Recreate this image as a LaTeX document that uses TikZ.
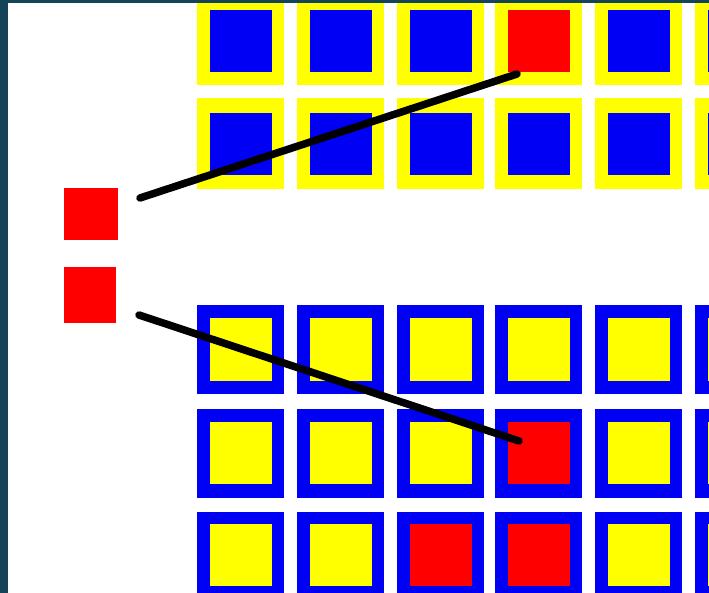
\documentclass[tikz,border=0pt]{standalone}
\definecolor{edgeteal}{RGB}{20,68,88}
\definecolor{cblue}{RGB}{0,0,245}
\definecolor{cred}{RGB}{255,0,0}
\definecolor{cyellow}{RGB}{255,255,0}
\begin{document}
\begin{tikzpicture}[x=1pt,y=-1pt,
  cell/.style={rectangle,draw=none,inner sep=0pt,outer sep=0pt,anchor=north west},
  outertop/.style={cell,fill=cyellow,minimum width=87pt},
  outerbot/.style={cell,fill=cblue,minimum width=87pt,minimum height=89pt},
  innercell/.style={cell,minimum width=62pt,minimum height=62pt},
  link/.style={draw=black,line width=7.5pt,line cap=round}]
\useasboundingbox (0,0) rectangle (709,593);
\clip (0,0) rectangle (709,593);
\fill[white] (0,0) rectangle (709,593);
% grid cells
\foreach \x/\i/\ta/\tb/\ba/\bb/\bc in {
  197/1/cblue/cblue/cyellow/cyellow/cyellow,
  297/2/cblue/cblue/cyellow/cyellow/cyellow,
  397/3/cblue/cblue/cyellow/cyellow/cred,
  495/4/cred/cblue/cyellow/cred/cred,
  595/5/cblue/cblue/cyellow/cyellow/cyellow,
  695/6/cblue/cblue/cyellow/cyellow/cyellow}{
  % top grid
  \node[outertop,minimum height=88pt] (toa\i) at (\x,-3) {};
  \node[innercell,fill=\ta] (tia\i) at (\x+13,10) {};
  \node[outertop,minimum height=91pt] (tob\i) at (\x,98.5) {};
  \node[innercell,fill=\tb] (tib\i) at (\x+13,113) {};
  % bottom grid
  \node[outerbot] (boa\i) at (\x,305) {};
  \node[innercell,fill=\ba] (bia\i) at (\x+13,318.5) {};
  \node[outerbot] (bob\i) at (\x,408.5) {};
  \node[innercell,fill=\bb] (bib\i) at (\x+13,422) {};
  \node[outerbot] (boc\i) at (\x,512) {};
  \node[innercell,fill=\bc] (bic\i) at (\x+13,524) {};
}
% left red squares
\node[cell,fill=cred,minimum width=54pt,minimum height=52pt] (r1) at (64,188) {};
\node[cell,fill=cred,minimum width=52pt,minimum height=56pt] (r2) at (64,267) {};
% frame strips
\fill[edgeteal] (0,0) rectangle (8,593);
\fill[edgeteal] (0,0) rectangle (709,3);
% connectors
\coordinate (l1s) at (140,198);
\coordinate (l1e) at (517,74);
\coordinate (l2s) at (139,315);
\coordinate (l2e) at (519,441);
\draw[link] (l1s) -- (l1e);
\draw[link] (l2s) -- (l2e);
\end{tikzpicture}
\end{document}
